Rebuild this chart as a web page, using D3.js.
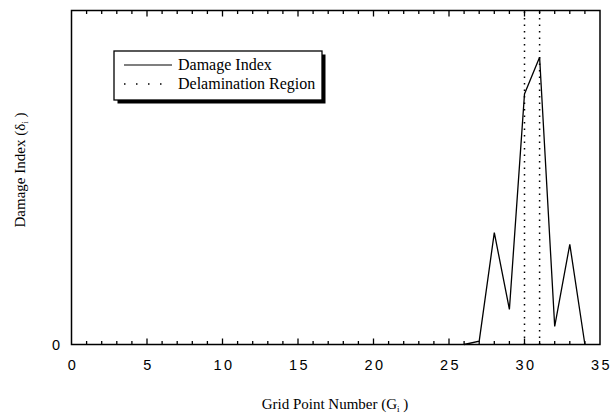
<!DOCTYPE html>
<html>
<head>
<meta charset="utf-8">
<script src="https://cdn.jsdelivr.net/npm/d3@7"></script>
<style>
  body { margin: 0; background: #fff; }
  svg { display: block; }
</style>
</head>
<body>
<svg width="612" height="417"></svg>
<script>
// data
const gridPoints = [26, 27, 28, 29, 30, 31, 32, 33, 34];
const damageIndex = [0, 0.01, 0.335, 0.105, 0.75, 0.86, 0.054, 0.30, 0];
const delaminationPoints = [30, 31];
const xTicks = [0, 5, 10, 15, 20, 25, 30, 35];
const legendLabels = ["Damage Index", "Delamination Region"];

const svg = d3.select("svg");

const plotLeft = 71.5, plotRight = 600, plotTop = 10.5, plotBottom = 344.5;

const x = d3.scaleLinear().domain([0, 35]).range([plotLeft, plotRight]);
const y = d3.scaleLinear().domain([0, 1]).range([plotBottom, plotTop]);

const points = gridPoints.map((g, i) => ({ g: g, v: damageIndex[i] }));

// dotted delamination lines
svg.selectAll(".delam")
    .data(delaminationPoints)
    .enter()
    .append("line")
    .attr("class", "delam")
    .attr("x1", d => x(d))
    .attr("x2", d => x(d))
    .attr("y1", y(0))
    .attr("y2", y(1))
    .attr("stroke", "#000")
    .attr("stroke-width", 1.5)
    .attr("stroke-dasharray", "1.5,5");

// damage index line
const line = d3.line()
    .x(d => x(d.g))
    .y(d => y(d.v));

svg.append("path")
    .datum(points)
    .attr("d", line)
    .attr("fill", "none")
    .attr("stroke", "#000")
    .attr("stroke-width", 1.3);

// frame
svg.append("rect")
    .attr("x", plotLeft)
    .attr("y", plotTop)
    .attr("width", plotRight - plotLeft)
    .attr("height", plotBottom - plotTop)
    .attr("fill", "none")
    .attr("stroke", "#000")
    .attr("stroke-width", 1.5);

// inward ticks, bottom and top
const minor = d3.range(1, 35);
function tickLen(d) { return d % 5 === 0 ? 6 : 3.5; }

svg.append("g")
    .selectAll("line")
    .data(minor)
    .enter()
    .append("line")
    .attr("x1", d => x(d))
    .attr("x2", d => x(d))
    .attr("y1", plotBottom)
    .attr("y2", d => plotBottom - tickLen(d))
    .attr("stroke", "#000")
    .attr("stroke-width", 1.3);

svg.append("g")
    .selectAll("line")
    .data(minor)
    .enter()
    .append("line")
    .attr("x1", d => x(d))
    .attr("x2", d => x(d))
    .attr("y1", plotTop)
    .attr("y2", d => plotTop + tickLen(d))
    .attr("stroke", "#000")
    .attr("stroke-width", 1.3);

// tick labels
svg.append("g")
    .selectAll("text")
    .data(xTicks)
    .enter()
    .append("text")
    .attr("x", d => x(d) + 1.5)
    .attr("y", 370)
    .attr("text-anchor", "middle")
    .attr("font-family", "Liberation Sans, Arial, sans-serif")
    .attr("font-size", "14.5px")
    .attr("letter-spacing", "2.5px")
    .text(d => d);

svg.append("text")
    .attr("x", 60)
    .attr("y", 349.5)
    .attr("text-anchor", "end")
    .attr("font-family", "Liberation Sans, Arial, sans-serif")
    .attr("font-size", "14.5px")
    .text("0");

// axis titles
const xTitle = svg.append("text")
    .attr("x", 335)
    .attr("y", 409)
    .attr("text-anchor", "middle")
    .attr("font-family", "Liberation Serif, Times New Roman, serif")
    .attr("font-size", "15px");
xTitle.append("tspan").text("Grid Point Number  (G");
xTitle.append("tspan").attr("font-size", "9px").attr("dy", 3).text("i");
xTitle.append("tspan").attr("dy", -3).text(" )");

const yTitle = svg.append("text")
    .attr("transform", "translate(25, 170) rotate(-90)")
    .attr("text-anchor", "middle")
    .attr("font-family", "Liberation Serif, Times New Roman, serif")
    .attr("font-size", "15px");
yTitle.append("tspan").text("Damage Index  (\u03b4");
yTitle.append("tspan").attr("font-size", "9px").attr("dy", 3).text("i");
yTitle.append("tspan").attr("dy", -3).text(" )");

// legend
const lg = svg.append("g").attr("transform", "translate(114, 51)");
lg.append("rect")
    .attr("x", 3.5).attr("y", 3.5)
    .attr("width", 208).attr("height", 49)
    .attr("fill", "#000");
lg.append("rect")
    .attr("width", 208).attr("height", 49)
    .attr("fill", "#fff")
    .attr("stroke", "#000")
    .attr("stroke-width", 1.3);

lg.selectAll(".sample")
    .data(legendLabels)
    .enter()
    .append("line")
    .attr("x1", 10).attr("x2", 58)
    .attr("y1", (d, i) => 14 + i * 19)
    .attr("y2", (d, i) => 14 + i * 19)
    .attr("stroke", "#000")
    .attr("stroke-width", (d, i) => i === 0 ? 1.2 : 1.5)
    .attr("stroke-dasharray", (d, i) => i === 0 ? null : "1.5,10.5");

lg.selectAll(".label")
    .data(legendLabels)
    .enter()
    .append("text")
    .attr("x", 64)
    .attr("y", (d, i) => 19 + i * 19)
    .attr("font-family", "Liberation Serif, Times New Roman, serif")
    .attr("font-size", "16px")
    .text(d => d);
</script>
</body>
</html>
